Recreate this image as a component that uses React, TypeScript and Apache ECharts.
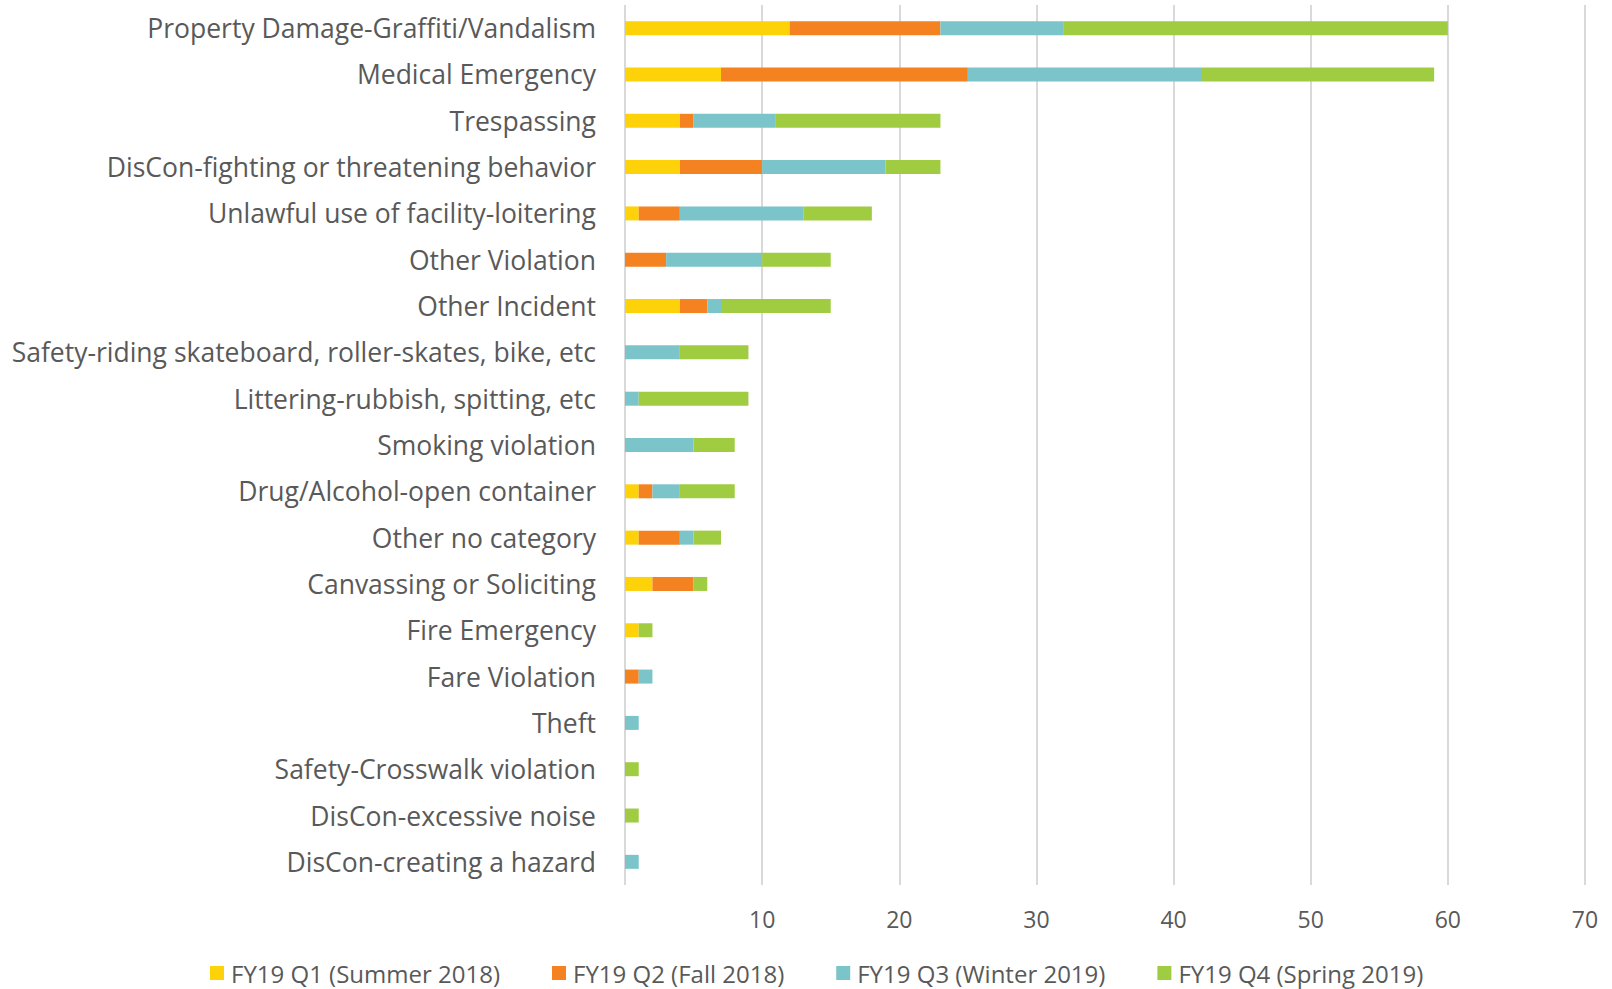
import React, { useEffect, useRef } from "react";
import * as echarts from "echarts";

const categories = [
  "Property Damage-Graffiti/Vandalism",
  "Medical Emergency",
  "Trespassing",
  "DisCon-fighting or threatening behavior",
  "Unlawful use of facility-loitering",
  "Other Violation",
  "Other Incident",
  "Safety-riding skateboard, roller-skates, bike, etc",
  "Littering-rubbish, spitting, etc",
  "Smoking violation",
  "Drug/Alcohol-open container",
  "Other no category",
  "Canvassing or Soliciting",
  "Fire Emergency",
  "Fare Violation",
  "Theft",
  "Safety-Crosswalk violation",
  "DisCon-excessive noise",
  "DisCon-creating a hazard",
];

const seriesNames = [
  "FY19 Q1 (Summer 2018)",
  "FY19 Q2 (Fall 2018)",
  "FY19 Q3 (Winter 2019)",
  "FY19 Q4 (Spring 2019)",
];

const q1 = [12, 7, 4, 4, 1, 0, 4, 0, 0, 0, 1, 1, 2, 1, 0, 0, 0, 0, 0];
const q2 = [11, 18, 1, 6, 3, 3, 2, 0, 0, 0, 1, 3, 3, 0, 1, 0, 0, 0, 0];
const q3 = [9, 17, 6, 9, 9, 7, 1, 4, 1, 5, 2, 1, 0, 0, 1, 1, 0, 0, 1];
const q4 = [28, 17, 12, 4, 5, 5, 8, 5, 8, 3, 4, 2, 1, 1, 0, 0, 1, 1, 0];

const colors = ["#FDD208", "#F58220", "#7AC4CA", "#9FCC40"];

const xTicks = [0, 10, 20, 30, 40, 50, 60, 70];

export default function App() {
  const ref = useRef<HTMLDivElement>(null);

  useEffect(() => {
    document.body.style.margin = "0";
    if (!ref.current) return;
    const chart = echarts.init(ref.current, undefined, { renderer: "svg" });
    const values = [q1, q2, q3, q4];
    const font = "'Open Sans', 'Noto Sans', sans-serif";
    chart.setOption({
      animation: false,
      color: colors,
      textStyle: { fontFamily: font },
      grid: { left: 625, right: 27, top: 5, height: 880, containLabel: false },
      legend: {
        top: 956,
        left: 205,
        itemWidth: 14,
        itemHeight: 14,
        itemGap: 52,
        icon: "rect",
        textStyle: { fontSize: 24, color: "#595959", fontFamily: font, padding: [0, 0, 0, 2] },
        data: seriesNames,
      },
      xAxis: {
        type: "value",
        min: xTicks[0],
        max: xTicks[xTicks.length - 1],
        interval: 10,
        axisLine: { show: false },
        axisTick: { show: false },
        splitLine: { show: true, lineStyle: { color: "#D9D9D9", width: 2 } },
        axisLabel: {
          fontSize: 23,
          color: "#595959",
          margin: 22,
          formatter: (v: number) => (v === 0 ? "" : String(v)),
        },
      },
      yAxis: {
        type: "category",
        inverse: true,
        data: categories,
        axisLine: { show: false },
        axisTick: { show: false },
        axisLabel: { fontSize: 26.5, color: "#595959", margin: 29 },
      },
      series: seriesNames.map((name, i) => ({
        name,
        type: "bar",
        stack: "total",
        barWidth: 14,
        data: values[i],
        itemStyle: { color: colors[i] },
      })),
    });
    return () => chart.dispose();
  }, []);

  return <div ref={ref} style={{ width: 1612, height: 989 }} />;
}
